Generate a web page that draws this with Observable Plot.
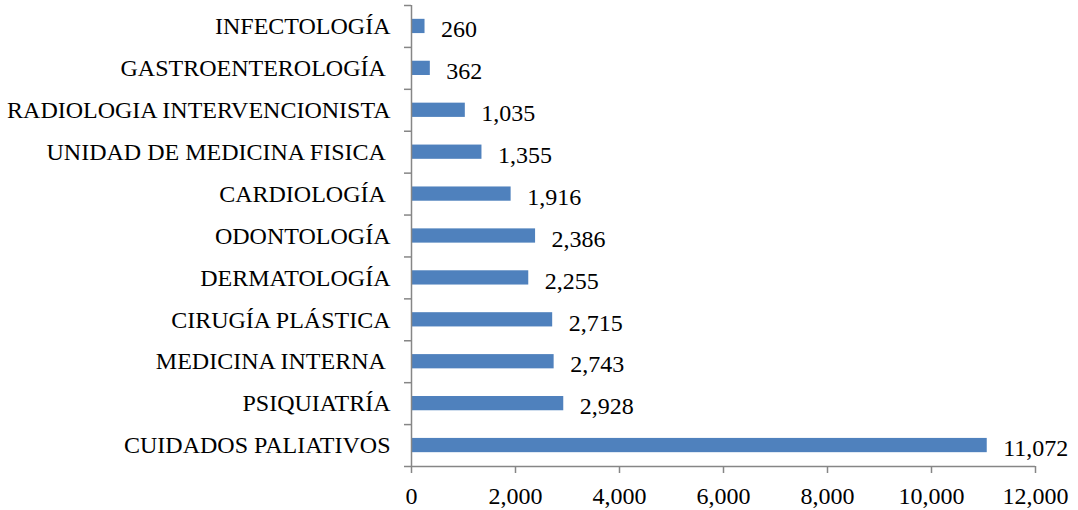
<!DOCTYPE html>
<html>
<head>
<meta charset="utf-8">
<script src="https://cdn.jsdelivr.net/npm/d3@7"></script>
<script src="https://cdn.jsdelivr.net/npm/@observablehq/plot@0.6"></script>
<style>
  html, body { margin: 0; padding: 0; background: #fff; }
  svg text { white-space: pre; }
</style>
</head>
<body>
<div id="chart"></div>
<script>
// Categories from bottom to top
const categories = [
  "CUIDADOS PALIATIVOS",
  "PSIQUIATRÍA",
  "MEDICINA INTERNA ",
  "CIRUGÍA PLÁSTICA",
  "DERMATOLOGÍA",
  "ODONTOLOGÍA",
  "CARDIOLOGÍA ",
  "UNIDAD DE MEDICINA FISICA ",
  "RADIOLOGIA INTERVENCIONISTA",
  "GASTROENTEROLOGÍA ",
  "INFECTOLOGÍA"
];
const values = [11072, 2928, 2743, 2715, 2255, 2386, 1916, 1355, 1035, 362, 260];
const xTicks = [0, 2000, 4000, 6000, 8000, 10000, 12000];

const data = categories.map((name, i) => ({name, i, value: values[i]}));
const bounds = d3.range(categories.length + 1).map(k => k - 0.5);
const fmt = d3.format(",");
const half = 0.17;

const chart = Plot.plot({
  width: 1078,
  height: 510,
  marginLeft: 411,
  marginRight: 43,
  marginTop: 5,
  marginBottom: 44,
  style: {fontFamily: "'Liberation Serif', 'Times New Roman', serif", fontSize: "24px", color: "black", background: "white"},
  x: {domain: [0, 12000], label: null},
  y: {domain: [-0.5, categories.length - 0.5], label: null},
  marks: [
    Plot.rectX(data, {x1: 0, x2: "value", y1: d => d.i - half, y2: d => d.i + half, fill: "#4F81BD"}),
    Plot.ruleX([0], {stroke: "#868686", strokeWidth: 1.5}),
    Plot.ruleY([-0.5], {stroke: "#868686", strokeWidth: 1.5}),
    Plot.axisY(bounds, {tickSize: 7, tickFormat: () => "", stroke: "#868686", strokeWidth: 1.5, label: null}),
    Plot.axisX(xTicks, {tickSize: 7, tickPadding: 13, tickFormat: fmt, stroke: "#868686", strokeWidth: 1.5, fill: "black", fontSize: 24, label: null}),
    Plot.text(data, {x: 0, y: "i", text: "name", dx: -21, textAnchor: "end", fontSize: 24, fill: "black"}),
    Plot.text(data, {x: "value", y: "i", text: d => fmt(d.value), dx: 16, dy: 3, textAnchor: "start", fontSize: 24, fill: "black"})
  ]
});
document.getElementById("chart").appendChild(chart);
</script>
</body>
</html>
